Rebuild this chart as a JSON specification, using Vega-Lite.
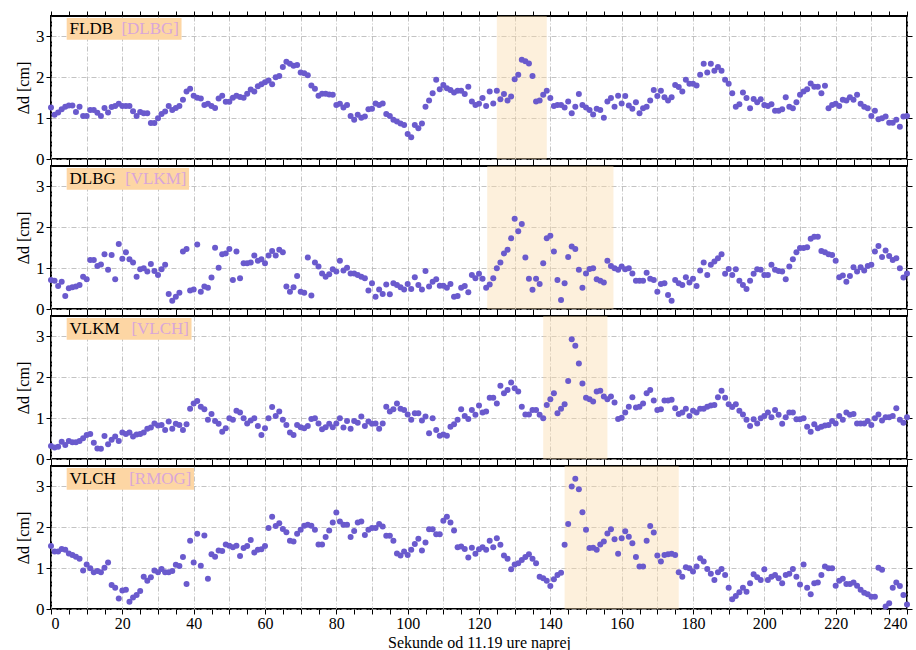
{
"$schema": "https://vega.github.io/schema/vega-lite/v6.json",
"padding": {"left": 14, "top": 9, "right": 6, "bottom": 0},
"background": "white",
"config": {
  "font": "Liberation Serif",
  "view": {"stroke": "black", "strokeWidth": 2},
  "axis": {"domain": false, "tickColor": "black", "tickSize": 5, "tickWidth": 1, "labelFont": "Liberation Serif", "labelFontSize": 17, "labelColor": "black", "titleFont": "Liberation Serif", "titleFontWeight": "normal", "titleColor": "black", "titleFontSize": 16, "gridColor": "#b4b4b4", "gridDash": [5, 2, 1, 2], "gridWidth": 0.8}
},
"datasets": {
  "spans": [
    {"p": "FLDB", "ref": "[DLBG]", "start": 125, "end": 139},
    {"p": "DLBG", "ref": "[VLKM]", "start": 122.3, "end": 157.7},
    {"p": "VLKM", "ref": "[VLCH]", "start": 138, "end": 156},
    {"p": "VLCH", "ref": "[RMOG]", "start": 144, "end": 176}
  ],
  "series": [
{"t":0,"FLDB":1.26,"DLBG":0.71,"VLKM":0.32,"VLCH":1.54},
{"t":1,"FLDB":1.08,"DLBG":0.69,"VLKM":0.28,"VLCH":1.41},
{"t":2,"FLDB":1.14,"DLBG":0.56,"VLKM":0.3,"VLCH":1.41},
{"t":3,"FLDB":1.22,"DLBG":0.67,"VLKM":0.42,"VLCH":1.47},
{"t":4,"FLDB":1.28,"DLBG":0.32,"VLKM":0.34,"VLCH":1.45},
{"t":5,"FLDB":1.31,"DLBG":0.51,"VLKM":0.44,"VLCH":1.36},
{"t":6,"FLDB":1.31,"DLBG":0.53,"VLKM":0.41,"VLCH":1.32},
{"t":7,"FLDB":1.15,"DLBG":0.55,"VLKM":0.41,"VLCH":1.28},
{"t":8,"FLDB":1.28,"DLBG":0.59,"VLKM":0.44,"VLCH":1.23},
{"t":9,"FLDB":1.05,"DLBG":0.79,"VLKM":0.51,"VLCH":0.94},
{"t":10,"FLDB":1.05,"DLBG":0.73,"VLKM":0.59,"VLCH":1.09},
{"t":11,"FLDB":1.2,"DLBG":1.2,"VLKM":0.61,"VLCH":1.0},
{"t":12,"FLDB":1.2,"DLBG":1.2,"VLKM":0.4,"VLCH":0.9},
{"t":13,"FLDB":1.13,"DLBG":1.05,"VLKM":0.26,"VLCH":0.93},
{"t":14,"FLDB":1.05,"DLBG":1.09,"VLKM":0.25,"VLCH":0.9},
{"t":15,"FLDB":1.25,"DLBG":1.34,"VLKM":0.56,"VLCH":1.01},
{"t":16,"FLDB":1.14,"DLBG":0.96,"VLKM":0.36,"VLCH":1.14},
{"t":17,"FLDB":1.27,"DLBG":1.32,"VLKM":0.47,"VLCH":0.59},
{"t":18,"FLDB":1.3,"DLBG":0.73,"VLKM":0.55,"VLCH":0.52},
{"t":19,"FLDB":1.35,"DLBG":1.59,"VLKM":0.44,"VLCH":0.26},
{"t":20,"FLDB":1.3,"DLBG":1.23,"VLKM":0.65,"VLCH":0.45},
{"t":21,"FLDB":1.3,"DLBG":1.39,"VLKM":0.61,"VLCH":0.47},
{"t":22,"FLDB":1.3,"DLBG":1.22,"VLKM":0.65,"VLCH":0.18},
{"t":23,"FLDB":1.17,"DLBG":1.14,"VLKM":0.55,"VLCH":0.28},
{"t":24,"FLDB":1.05,"DLBG":0.79,"VLKM":0.6,"VLCH":0.34},
{"t":25,"FLDB":1.15,"DLBG":0.97,"VLKM":0.61,"VLCH":0.44},
{"t":26,"FLDB":1.12,"DLBG":1.0,"VLKM":0.65,"VLCH":0.79},
{"t":27,"FLDB":1.12,"DLBG":0.92,"VLKM":0.74,"VLCH":0.69},
{"t":28,"FLDB":0.88,"DLBG":1.1,"VLKM":0.77,"VLCH":0.78},
{"t":29,"FLDB":0.88,"DLBG":0.93,"VLKM":0.87,"VLCH":0.94},
{"t":30,"FLDB":1.0,"DLBG":0.83,"VLKM":0.82,"VLCH":0.9},
{"t":31,"FLDB":1.1,"DLBG":0.97,"VLKM":0.83,"VLCH":0.98},
{"t":32,"FLDB":1.16,"DLBG":1.08,"VLKM":0.71,"VLCH":0.9},
{"t":33,"FLDB":1.3,"DLBG":0.37,"VLKM":0.92,"VLCH":0.9},
{"t":34,"FLDB":1.2,"DLBG":0.2,"VLKM":0.74,"VLCH":0.93},
{"t":35,"FLDB":1.25,"DLBG":0.3,"VLKM":0.86,"VLCH":1.08},
{"t":36,"FLDB":1.3,"DLBG":0.4,"VLKM":0.83,"VLCH":1.05},
{"t":37,"FLDB":1.45,"DLBG":1.41,"VLKM":0.71,"VLCH":1.27},
{"t":38,"FLDB":1.65,"DLBG":1.47,"VLKM":0.85,"VLCH":0.61},
{"t":39,"FLDB":1.72,"DLBG":0.45,"VLKM":1.23,"VLCH":1.67},
{"t":40,"FLDB":1.55,"DLBG":0.48,"VLKM":1.36,"VLCH":1.14},
{"t":41,"FLDB":1.5,"DLBG":1.58,"VLKM":1.42,"VLCH":1.84},
{"t":42,"FLDB":1.48,"DLBG":0.42,"VLKM":1.28,"VLCH":1.06},
{"t":43,"FLDB":1.32,"DLBG":0.55,"VLKM":1.22,"VLCH":1.8},
{"t":44,"FLDB":1.35,"DLBG":0.52,"VLKM":0.96,"VLCH":0.74},
{"t":45,"FLDB":1.3,"DLBG":0.77,"VLKM":1.1,"VLCH":1.34},
{"t":46,"FLDB":1.25,"DLBG":1.5,"VLKM":0.93,"VLCH":1.28},
{"t":47,"FLDB":1.48,"DLBG":1.01,"VLKM":0.86,"VLCH":1.43},
{"t":48,"FLDB":1.55,"DLBG":1.34,"VLKM":0.67,"VLCH":1.42},
{"t":49,"FLDB":1.4,"DLBG":1.36,"VLKM":0.75,"VLCH":1.58},
{"t":50,"FLDB":1.4,"DLBG":1.47,"VLKM":1.0,"VLCH":1.55},
{"t":51,"FLDB":1.5,"DLBG":0.71,"VLKM":0.96,"VLCH":1.51},
{"t":52,"FLDB":1.55,"DLBG":1.41,"VLKM":1.18,"VLCH":1.55},
{"t":53,"FLDB":1.52,"DLBG":0.75,"VLKM":1.14,"VLCH":1.3},
{"t":54,"FLDB":1.5,"DLBG":1.12,"VLKM":1.0,"VLCH":1.49},
{"t":55,"FLDB":1.6,"DLBG":1.12,"VLKM":0.87,"VLCH":1.54},
{"t":56,"FLDB":1.7,"DLBG":1.14,"VLKM":0.94,"VLCH":1.69},
{"t":57,"FLDB":1.65,"DLBG":1.31,"VLKM":1.0,"VLCH":1.38},
{"t":58,"FLDB":1.78,"DLBG":1.18,"VLKM":0.81,"VLCH":1.45},
{"t":59,"FLDB":1.83,"DLBG":1.22,"VLKM":0.59,"VLCH":1.46},
{"t":60,"FLDB":1.88,"DLBG":1.12,"VLKM":0.75,"VLCH":1.54},
{"t":61,"FLDB":1.92,"DLBG":1.31,"VLKM":1.0,"VLCH":1.98},
{"t":62,"FLDB":1.83,"DLBG":1.42,"VLKM":1.27,"VLCH":2.26},
{"t":63,"FLDB":2.0,"DLBG":1.31,"VLKM":1.05,"VLCH":2.03},
{"t":64,"FLDB":2.03,"DLBG":1.45,"VLKM":1.16,"VLCH":2.1},
{"t":65,"FLDB":2.25,"DLBG":1.39,"VLKM":0.96,"VLCH":1.96},
{"t":66,"FLDB":2.38,"DLBG":0.55,"VLKM":0.83,"VLCH":1.88},
{"t":67,"FLDB":2.33,"DLBG":0.42,"VLKM":0.65,"VLCH":1.67},
{"t":68,"FLDB":2.28,"DLBG":0.53,"VLKM":0.59,"VLCH":1.65},
{"t":69,"FLDB":2.3,"DLBG":0.81,"VLKM":0.83,"VLCH":1.84},
{"t":70,"FLDB":2.12,"DLBG":0.42,"VLKM":0.78,"VLCH":1.94},
{"t":71,"FLDB":2.1,"DLBG":0.4,"VLKM":0.75,"VLCH":2.04},
{"t":72,"FLDB":2.05,"DLBG":1.26,"VLKM":0.81,"VLCH":2.06},
{"t":73,"FLDB":1.8,"DLBG":0.33,"VLKM":0.98,"VLCH":2.04},
{"t":74,"FLDB":1.72,"DLBG":1.14,"VLKM":1.0,"VLCH":1.94},
{"t":75,"FLDB":1.55,"DLBG":1.04,"VLKM":0.87,"VLCH":1.58},
{"t":76,"FLDB":1.6,"DLBG":0.87,"VLKM":0.73,"VLCH":1.58},
{"t":77,"FLDB":1.6,"DLBG":0.79,"VLKM":0.78,"VLCH":1.76},
{"t":78,"FLDB":1.58,"DLBG":0.85,"VLKM":0.86,"VLCH":1.92},
{"t":79,"FLDB":1.57,"DLBG":0.97,"VLKM":0.78,"VLCH":2.12},
{"t":80,"FLDB":1.32,"DLBG":0.92,"VLKM":0.87,"VLCH":2.36},
{"t":81,"FLDB":1.35,"DLBG":1.18,"VLKM":1.0,"VLCH":2.14},
{"t":82,"FLDB":1.26,"DLBG":0.94,"VLKM":0.77,"VLCH":2.06},
{"t":83,"FLDB":1.32,"DLBG":1.01,"VLKM":0.93,"VLCH":2.06},
{"t":84,"FLDB":1.05,"DLBG":0.87,"VLKM":0.74,"VLCH":1.76},
{"t":85,"FLDB":0.96,"DLBG":0.87,"VLKM":0.93,"VLCH":1.91},
{"t":86,"FLDB":1.08,"DLBG":0.83,"VLKM":0.89,"VLCH":2.12},
{"t":87,"FLDB":1.01,"DLBG":0.79,"VLKM":1.04,"VLCH":2.14},
{"t":88,"FLDB":1.04,"DLBG":0.75,"VLKM":0.81,"VLCH":1.81},
{"t":89,"FLDB":1.22,"DLBG":0.45,"VLKM":0.92,"VLCH":1.94},
{"t":90,"FLDB":1.23,"DLBG":0.63,"VLKM":0.86,"VLCH":1.98},
{"t":91,"FLDB":1.36,"DLBG":0.3,"VLKM":0.87,"VLCH":1.98},
{"t":92,"FLDB":1.32,"DLBG":0.48,"VLKM":0.74,"VLCH":2.08},
{"t":93,"FLDB":1.36,"DLBG":0.37,"VLKM":0.87,"VLCH":2.02},
{"t":94,"FLDB":1.1,"DLBG":0.6,"VLKM":1.28,"VLCH":1.79},
{"t":95,"FLDB":1.05,"DLBG":0.36,"VLKM":1.16,"VLCH":1.79},
{"t":96,"FLDB":0.96,"DLBG":0.63,"VLKM":1.22,"VLCH":1.67},
{"t":97,"FLDB":0.92,"DLBG":0.59,"VLKM":1.36,"VLCH":1.36},
{"t":98,"FLDB":0.87,"DLBG":0.53,"VLKM":1.23,"VLCH":1.31},
{"t":99,"FLDB":0.83,"DLBG":0.48,"VLKM":1.2,"VLCH":1.41},
{"t":100,"FLDB":0.61,"DLBG":0.61,"VLKM":1.09,"VLCH":1.32},
{"t":101,"FLDB":0.53,"DLBG":0.49,"VLKM":0.96,"VLCH":1.45},
{"t":102,"FLDB":0.83,"DLBG":0.78,"VLKM":1.12,"VLCH":1.59},
{"t":103,"FLDB":0.75,"DLBG":0.59,"VLKM":1.12,"VLCH":1.72},
{"t":104,"FLDB":0.87,"DLBG":0.48,"VLKM":0.94,"VLCH":1.43},
{"t":105,"FLDB":1.28,"DLBG":0.93,"VLKM":1.04,"VLCH":1.63},
{"t":106,"FLDB":1.43,"DLBG":0.55,"VLKM":0.63,"VLCH":1.95},
{"t":107,"FLDB":1.61,"DLBG":0.67,"VLKM":1.0,"VLCH":1.95},
{"t":108,"FLDB":1.94,"DLBG":0.73,"VLKM":0.71,"VLCH":1.83},
{"t":109,"FLDB":1.71,"DLBG":0.57,"VLKM":0.57,"VLCH":1.83},
{"t":110,"FLDB":1.81,"DLBG":0.57,"VLKM":0.6,"VLCH":2.16},
{"t":111,"FLDB":1.73,"DLBG":0.52,"VLKM":0.57,"VLCH":2.26},
{"t":112,"FLDB":1.69,"DLBG":0.61,"VLKM":0.79,"VLCH":2.12},
{"t":113,"FLDB":1.63,"DLBG":0.3,"VLKM":0.85,"VLCH":1.92},
{"t":114,"FLDB":1.67,"DLBG":0.32,"VLKM":0.96,"VLCH":1.51},
{"t":115,"FLDB":1.67,"DLBG":0.52,"VLKM":1.22,"VLCH":1.53},
{"t":116,"FLDB":1.59,"DLBG":0.56,"VLKM":1.05,"VLCH":1.47},
{"t":117,"FLDB":1.77,"DLBG":0.41,"VLKM":0.98,"VLCH":1.26},
{"t":118,"FLDB":1.41,"DLBG":0.83,"VLKM":1.2,"VLCH":1.5},
{"t":119,"FLDB":1.32,"DLBG":0.75,"VLKM":1.08,"VLCH":1.35},
{"t":120,"FLDB":1.35,"DLBG":0.86,"VLKM":1.31,"VLCH":1.46},
{"t":121,"FLDB":1.49,"DLBG":0.74,"VLKM":1.14,"VLCH":1.51},
{"t":122,"FLDB":1.3,"DLBG":0.52,"VLKM":1.16,"VLCH":1.45},
{"t":123,"FLDB":1.65,"DLBG":0.6,"VLKM":1.5,"VLCH":1.67},
{"t":124,"FLDB":1.36,"DLBG":0.75,"VLKM":1.5,"VLCH":1.51},
{"t":125,"FLDB":1.67,"DLBG":1.0,"VLKM":1.36,"VLCH":1.73},
{"t":126,"FLDB":1.46,"DLBG":1.14,"VLKM":1.79,"VLCH":1.57},
{"t":127,"FLDB":1.59,"DLBG":1.36,"VLKM":1.61,"VLCH":1.31},
{"t":128,"FLDB":1.43,"DLBG":1.45,"VLKM":1.69,"VLCH":1.23},
{"t":129,"FLDB":1.53,"DLBG":1.73,"VLKM":1.87,"VLCH":0.97},
{"t":130,"FLDB":1.95,"DLBG":2.21,"VLKM":1.73,"VLCH":1.09},
{"t":131,"FLDB":2.06,"DLBG":1.9,"VLKM":1.65,"VLCH":1.12},
{"t":132,"FLDB":2.43,"DLBG":2.08,"VLKM":1.28,"VLCH":1.2},
{"t":133,"FLDB":2.39,"DLBG":1.26,"VLKM":1.09,"VLCH":1.27},
{"t":134,"FLDB":2.34,"DLBG":0.74,"VLKM":1.09,"VLCH":1.34},
{"t":135,"FLDB":2.03,"DLBG":0.47,"VLKM":1.2,"VLCH":1.23},
{"t":136,"FLDB":1.41,"DLBG":0.74,"VLKM":1.2,"VLCH":1.12},
{"t":137,"FLDB":1.43,"DLBG":0.61,"VLKM":1.08,"VLCH":0.79},
{"t":138,"FLDB":1.57,"DLBG":1.12,"VLKM":1.0,"VLCH":0.75},
{"t":139,"FLDB":1.67,"DLBG":1.73,"VLKM":1.32,"VLCH":0.69},
{"t":140,"FLDB":1.49,"DLBG":1.79,"VLKM":1.46,"VLCH":0.56},
{"t":141,"FLDB":1.3,"DLBG":1.41,"VLKM":1.61,"VLCH":0.73},
{"t":142,"FLDB":1.32,"DLBG":0.71,"VLKM":1.12,"VLCH":0.83},
{"t":143,"FLDB":1.32,"DLBG":0.22,"VLKM":1.23,"VLCH":0.89},
{"t":144,"FLDB":1.26,"DLBG":0.63,"VLKM":1.34,"VLCH":1.57},
{"t":145,"FLDB":1.41,"DLBG":1.27,"VLKM":1.91,"VLCH":2.08},
{"t":146,"FLDB":1.12,"DLBG":1.53,"VLKM":2.93,"VLCH":3.0},
{"t":147,"FLDB":1.28,"DLBG":1.47,"VLKM":2.77,"VLCH":3.19},
{"t":148,"FLDB":1.59,"DLBG":0.96,"VLKM":2.34,"VLCH":2.93},
{"t":149,"FLDB":1.32,"DLBG":0.52,"VLKM":1.85,"VLCH":2.37},
{"t":150,"FLDB":1.26,"DLBG":0.87,"VLKM":1.5,"VLCH":1.94},
{"t":151,"FLDB":1.2,"DLBG":0.98,"VLKM":1.46,"VLCH":1.49},
{"t":152,"FLDB":1.09,"DLBG":1.0,"VLKM":1.41,"VLCH":1.5},
{"t":153,"FLDB":1.23,"DLBG":0.73,"VLKM":1.65,"VLCH":1.45},
{"t":154,"FLDB":1.2,"DLBG":0.69,"VLKM":1.67,"VLCH":1.58},
{"t":155,"FLDB":1.01,"DLBG":0.65,"VLKM":1.53,"VLCH":1.65},
{"t":156,"FLDB":1.41,"DLBG":1.18,"VLKM":1.46,"VLCH":1.85},
{"t":157,"FLDB":1.49,"DLBG":1.05,"VLKM":1.53,"VLCH":1.95},
{"t":158,"FLDB":1.28,"DLBG":1.0,"VLKM":1.38,"VLCH":1.71},
{"t":159,"FLDB":1.55,"DLBG":0.96,"VLKM":0.98,"VLCH":1.35},
{"t":160,"FLDB":1.36,"DLBG":1.04,"VLKM":1.01,"VLCH":1.73},
{"t":161,"FLDB":1.54,"DLBG":0.97,"VLKM":1.14,"VLCH":1.9},
{"t":162,"FLDB":1.31,"DLBG":1.0,"VLKM":1.28,"VLCH":1.77},
{"t":163,"FLDB":1.23,"DLBG":0.87,"VLKM":1.51,"VLCH":1.61},
{"t":164,"FLDB":1.39,"DLBG":0.69,"VLKM":1.26,"VLCH":1.27},
{"t":165,"FLDB":1.12,"DLBG":0.69,"VLKM":1.28,"VLCH":1.04},
{"t":166,"FLDB":1.24,"DLBG":0.69,"VLKM":1.36,"VLCH":1.04},
{"t":167,"FLDB":1.28,"DLBG":0.89,"VLKM":1.61,"VLCH":1.67},
{"t":168,"FLDB":1.43,"DLBG":0.74,"VLKM":1.69,"VLCH":2.03},
{"t":169,"FLDB":1.69,"DLBG":0.71,"VLKM":1.43,"VLCH":1.87},
{"t":170,"FLDB":1.54,"DLBG":0.42,"VLKM":1.2,"VLCH":1.31},
{"t":171,"FLDB":1.67,"DLBG":0.61,"VLKM":1.22,"VLCH":1.16},
{"t":172,"FLDB":1.51,"DLBG":0.63,"VLKM":1.43,"VLCH":1.32},
{"t":173,"FLDB":1.43,"DLBG":0.34,"VLKM":1.43,"VLCH":1.34},
{"t":174,"FLDB":1.51,"DLBG":0.2,"VLKM":1.45,"VLCH":1.35},
{"t":175,"FLDB":1.81,"DLBG":0.71,"VLKM":1.24,"VLCH":1.32},
{"t":176,"FLDB":1.76,"DLBG":0.63,"VLKM":1.1,"VLCH":0.9},
{"t":177,"FLDB":1.65,"DLBG":0.59,"VLKM":1.14,"VLCH":0.79},
{"t":178,"FLDB":1.94,"DLBG":0.78,"VLKM":1.23,"VLCH":1.02},
{"t":179,"FLDB":1.84,"DLBG":0.65,"VLKM":1.05,"VLCH":1.0},
{"t":180,"FLDB":1.84,"DLBG":0.74,"VLKM":1.18,"VLCH":0.92},
{"t":181,"FLDB":1.8,"DLBG":0.56,"VLKM":1.14,"VLCH":1.04},
{"t":182,"FLDB":2.06,"DLBG":0.94,"VLKM":1.23,"VLCH":1.24},
{"t":183,"FLDB":2.33,"DLBG":1.14,"VLKM":1.23,"VLCH":1.16},
{"t":184,"FLDB":2.12,"DLBG":0.83,"VLKM":1.28,"VLCH":0.98},
{"t":185,"FLDB":2.33,"DLBG":1.08,"VLKM":1.31,"VLCH":0.86},
{"t":186,"FLDB":2.16,"DLBG":1.16,"VLKM":1.32,"VLCH":0.71},
{"t":187,"FLDB":2.25,"DLBG":1.24,"VLKM":1.51,"VLCH":0.9},
{"t":188,"FLDB":2.16,"DLBG":1.34,"VLKM":1.67,"VLCH":0.98},
{"t":189,"FLDB":1.94,"DLBG":0.86,"VLKM":1.5,"VLCH":0.83},
{"t":190,"FLDB":1.84,"DLBG":0.98,"VLKM":1.34,"VLCH":0.52},
{"t":191,"FLDB":1.61,"DLBG":0.83,"VLKM":1.27,"VLCH":0.24},
{"t":192,"FLDB":1.28,"DLBG":0.97,"VLKM":1.34,"VLCH":0.32},
{"t":193,"FLDB":1.34,"DLBG":0.69,"VLKM":1.18,"VLCH":0.41},
{"t":194,"FLDB":1.63,"DLBG":0.59,"VLKM":1.09,"VLCH":0.52},
{"t":195,"FLDB":1.49,"DLBG":0.49,"VLKM":0.96,"VLCH":0.42},
{"t":196,"FLDB":1.24,"DLBG":0.69,"VLKM":0.81,"VLCH":0.63},
{"t":197,"FLDB":1.47,"DLBG":0.86,"VLKM":0.97,"VLCH":0.85},
{"t":198,"FLDB":1.39,"DLBG":0.97,"VLKM":0.87,"VLCH":0.78},
{"t":199,"FLDB":1.46,"DLBG":0.96,"VLKM":1.0,"VLCH":0.71},
{"t":200,"FLDB":1.32,"DLBG":0.83,"VLKM":1.05,"VLCH":0.97},
{"t":201,"FLDB":1.3,"DLBG":0.83,"VLKM":1.14,"VLCH":0.71},
{"t":202,"FLDB":1.34,"DLBG":1.08,"VLKM":1.02,"VLCH":0.79},
{"t":203,"FLDB":1.18,"DLBG":0.96,"VLKM":1.2,"VLCH":0.83},
{"t":204,"FLDB":1.18,"DLBG":0.93,"VLKM":1.08,"VLCH":0.75},
{"t":205,"FLDB":1.22,"DLBG":0.92,"VLKM":0.86,"VLCH":0.63},
{"t":206,"FLDB":1.51,"DLBG":0.73,"VLKM":1.02,"VLCH":0.83},
{"t":207,"FLDB":1.28,"DLBG":1.04,"VLKM":1.14,"VLCH":0.86},
{"t":208,"FLDB":1.24,"DLBG":1.22,"VLKM":1.14,"VLCH":0.98},
{"t":209,"FLDB":1.39,"DLBG":1.39,"VLKM":0.97,"VLCH":0.79},
{"t":210,"FLDB":1.57,"DLBG":1.49,"VLKM":0.97,"VLCH":0.6},
{"t":211,"FLDB":1.65,"DLBG":1.49,"VLKM":1.0,"VLCH":1.09},
{"t":212,"FLDB":1.71,"DLBG":1.51,"VLKM":0.79,"VLCH":0.52},
{"t":213,"FLDB":1.85,"DLBG":1.72,"VLKM":0.67,"VLCH":0.36},
{"t":214,"FLDB":1.77,"DLBG":1.77,"VLKM":0.85,"VLCH":0.63},
{"t":215,"FLDB":1.77,"DLBG":1.77,"VLKM":0.75,"VLCH":0.65},
{"t":216,"FLDB":1.61,"DLBG":1.42,"VLKM":0.79,"VLCH":0.83},
{"t":217,"FLDB":1.79,"DLBG":1.39,"VLKM":0.82,"VLCH":1.04},
{"t":218,"FLDB":1.24,"DLBG":1.34,"VLKM":0.83,"VLCH":1.0},
{"t":219,"FLDB":1.32,"DLBG":1.32,"VLKM":0.93,"VLCH":1.0},
{"t":220,"FLDB":1.35,"DLBG":1.18,"VLKM":0.87,"VLCH":0.57},
{"t":221,"FLDB":1.3,"DLBG":0.78,"VLKM":1.05,"VLCH":0.69},
{"t":222,"FLDB":1.45,"DLBG":0.82,"VLKM":0.96,"VLCH":0.74},
{"t":223,"FLDB":1.43,"DLBG":0.67,"VLKM":1.14,"VLCH":0.61},
{"t":224,"FLDB":1.51,"DLBG":0.81,"VLKM":1.08,"VLCH":0.61},
{"t":225,"FLDB":1.45,"DLBG":1.02,"VLKM":1.1,"VLCH":0.65},
{"t":226,"FLDB":1.57,"DLBG":0.92,"VLKM":0.87,"VLCH":0.57},
{"t":227,"FLDB":1.35,"DLBG":1.02,"VLKM":0.87,"VLCH":0.47},
{"t":228,"FLDB":1.28,"DLBG":0.94,"VLKM":0.87,"VLCH":0.4},
{"t":229,"FLDB":1.24,"DLBG":1.05,"VLKM":0.93,"VLCH":0.36},
{"t":230,"FLDB":1.05,"DLBG":1.08,"VLKM":0.83,"VLCH":0.3},
{"t":231,"FLDB":1.18,"DLBG":1.41,"VLKM":1.0,"VLCH":0.3},
{"t":232,"FLDB":0.97,"DLBG":1.54,"VLKM":1.09,"VLCH":1.01},
{"t":233,"FLDB":1.0,"DLBG":1.27,"VLKM":0.94,"VLCH":0.96},
{"t":234,"FLDB":1.04,"DLBG":1.43,"VLKM":1.02,"VLCH":0.06},
{"t":235,"FLDB":0.89,"DLBG":1.3,"VLKM":1.02,"VLCH":0.14},
{"t":236,"FLDB":0.89,"DLBG":1.2,"VLKM":1.05,"VLCH":0.52},
{"t":237,"FLDB":0.96,"DLBG":1.24,"VLKM":1.24,"VLCH":0.65},
{"t":238,"FLDB":0.79,"DLBG":1.0,"VLKM":0.96,"VLCH":0.56},
{"t":239,"FLDB":1.04,"DLBG":0.77,"VLKM":0.89,"VLCH":0.34},
{"t":240,"FLDB":1.05,"DLBG":0.87,"VLKM":1.02,"VLCH":0.11}
  ]
},
"bounds": "flush",
"spacing": 7,
"vconcat": [
{
  "width": 856, "height": 143,
  "resolve": {"axis": {"x": "independent", "y": "independent"}},
  "layer": [
    {"data": {"name": "spans"}, "transform": [{"filter": "datum.p === 'FLDB'"}],
     "mark": {"type": "rect", "color": "#fad9a7", "opacity": 0.4},
     "encoding": {
       "x": {"field": "start", "type": "quantitative", "scale": {"domain": [0, 240], "nice": false}, "axis": {"orient": "top", "values": [0,5,10,15,20,25,30,35,40,45,50,55,60,65,70,75,80,85,90,95,100,105,110,115,120,125,130,135,140,145,150,155,160,165,170,175,180,185,190,195,200,205,210,215,220,225,230,235,240], "labels": false, "grid": false, "title": null}},
       "x2": {"field": "end"}}},
    {"data": {"name": "spans"}, "transform": [{"filter": "datum.p === 'FLDB'"}],
     "mark": {"type": "rect", "color": "#fdd6a4"},
     "encoding": {
       "x": {"datum": 4.4, "type": "quantitative", "scale": {"domain": [0, 240], "nice": false}, "axis": null},
       "x2": {"datum": 36.6},
       "y": {"datum": 2.92, "type": "quantitative", "scale": {"domain": [0, 3.5], "nice": false}, "axis": {"orient": "right", "values": [0, 1, 2, 3], "labels": false, "grid": false, "title": null}},
       "y2": {"datum": 3.45}}},
    {"data": {"name": "spans"}, "transform": [{"filter": "datum.p === 'FLDB'"}],
     "mark": {"type": "text", "align": "left", "baseline": "middle", "fontSize": 17, "color": "black"},
     "encoding": {
       "x": {"datum": 5.2, "type": "quantitative", "scale": {"domain": [0, 240], "nice": false}, "axis": null},
       "y": {"datum": 3.19, "type": "quantitative", "scale": {"domain": [0, 3.5], "nice": false}, "axis": null},
       "text": {"field": "p"}}},
    {"data": {"name": "spans"}, "transform": [{"filter": "datum.p === 'FLDB'"}],
     "mark": {"type": "text", "align": "right", "baseline": "middle", "fontSize": 17, "color": "#d9a6d9"},
     "encoding": {
       "x": {"datum": 35.9, "type": "quantitative", "scale": {"domain": [0, 240], "nice": false}, "axis": null},
       "y": {"datum": 3.19, "type": "quantitative", "scale": {"domain": [0, 3.5], "nice": false}, "axis": null},
       "text": {"field": "ref"}}},
    {"data": {"name": "series"},
     "mark": {"type": "circle", "size": 36, "color": "#6a5acd", "opacity": 1},
     "encoding": {
       "x": {"field": "t", "type": "quantitative", "scale": {"domain": [0, 240], "nice": false}, "axis": {"orient": "bottom", "values": [0,5,10,15,20,25,30,35,40,45,50,55,60,65,70,75,80,85,90,95,100,105,110,115,120,125,130,135,140,145,150,155,160,165,170,175,180,185,190,195,200,205,210,215,220,225,230,235,240], "labels": false, "title": null, "grid": true, "gridOpacity": {"condition": {"test": "datum.value % 10 === 0", "value": 1}, "value": 0}}},
       "y": {"field": "FLDB", "type": "quantitative", "scale": {"domain": [0, 3.5], "nice": false}, "axis": {"orient": "left", "values": [0, 1, 2, 3], "title": "Δd [cm]", "grid": true}}}}
  ]
},
{
  "width": 856, "height": 143,
  "resolve": {"axis": {"x": "independent", "y": "independent"}},
  "layer": [
    {"data": {"name": "spans"}, "transform": [{"filter": "datum.p === 'DLBG'"}],
     "mark": {"type": "rect", "color": "#fad9a7", "opacity": 0.4},
     "encoding": {
       "x": {"field": "start", "type": "quantitative", "scale": {"domain": [0, 240], "nice": false}, "axis": {"orient": "top", "values": [0,5,10,15,20,25,30,35,40,45,50,55,60,65,70,75,80,85,90,95,100,105,110,115,120,125,130,135,140,145,150,155,160,165,170,175,180,185,190,195,200,205,210,215,220,225,230,235,240], "labels": false, "grid": false, "title": null}},
       "x2": {"field": "end"}}},
    {"data": {"name": "spans"}, "transform": [{"filter": "datum.p === 'DLBG'"}],
     "mark": {"type": "rect", "color": "#fdd6a4"},
     "encoding": {
       "x": {"datum": 4.4, "type": "quantitative", "scale": {"domain": [0, 240], "nice": false}, "axis": null},
       "x2": {"datum": 38.7},
       "y": {"datum": 2.92, "type": "quantitative", "scale": {"domain": [0, 3.5], "nice": false}, "axis": {"orient": "right", "values": [0, 1, 2, 3], "labels": false, "grid": false, "title": null}},
       "y2": {"datum": 3.45}}},
    {"data": {"name": "spans"}, "transform": [{"filter": "datum.p === 'DLBG'"}],
     "mark": {"type": "text", "align": "left", "baseline": "middle", "fontSize": 17, "color": "black"},
     "encoding": {
       "x": {"datum": 5.2, "type": "quantitative", "scale": {"domain": [0, 240], "nice": false}, "axis": null},
       "y": {"datum": 3.19, "type": "quantitative", "scale": {"domain": [0, 3.5], "nice": false}, "axis": null},
       "text": {"field": "p"}}},
    {"data": {"name": "spans"}, "transform": [{"filter": "datum.p === 'DLBG'"}],
     "mark": {"type": "text", "align": "right", "baseline": "middle", "fontSize": 17, "color": "#d9a6d9"},
     "encoding": {
       "x": {"datum": 38.0, "type": "quantitative", "scale": {"domain": [0, 240], "nice": false}, "axis": null},
       "y": {"datum": 3.19, "type": "quantitative", "scale": {"domain": [0, 3.5], "nice": false}, "axis": null},
       "text": {"field": "ref"}}},
    {"data": {"name": "series"},
     "mark": {"type": "circle", "size": 36, "color": "#6a5acd", "opacity": 1},
     "encoding": {
       "x": {"field": "t", "type": "quantitative", "scale": {"domain": [0, 240], "nice": false}, "axis": {"orient": "bottom", "values": [0,5,10,15,20,25,30,35,40,45,50,55,60,65,70,75,80,85,90,95,100,105,110,115,120,125,130,135,140,145,150,155,160,165,170,175,180,185,190,195,200,205,210,215,220,225,230,235,240], "labels": false, "title": null, "grid": true, "gridOpacity": {"condition": {"test": "datum.value % 10 === 0", "value": 1}, "value": 0}}},
       "y": {"field": "DLBG", "type": "quantitative", "scale": {"domain": [0, 3.5], "nice": false}, "axis": {"orient": "left", "values": [0, 1, 2, 3], "title": "Δd [cm]", "grid": true}}}}
  ]
},
{
  "width": 856, "height": 143,
  "resolve": {"axis": {"x": "independent", "y": "independent"}},
  "layer": [
    {"data": {"name": "spans"}, "transform": [{"filter": "datum.p === 'VLKM'"}],
     "mark": {"type": "rect", "color": "#fad9a7", "opacity": 0.4},
     "encoding": {
       "x": {"field": "start", "type": "quantitative", "scale": {"domain": [0, 240], "nice": false}, "axis": {"orient": "top", "values": [0,5,10,15,20,25,30,35,40,45,50,55,60,65,70,75,80,85,90,95,100,105,110,115,120,125,130,135,140,145,150,155,160,165,170,175,180,185,190,195,200,205,210,215,220,225,230,235,240], "labels": false, "grid": false, "title": null}},
       "x2": {"field": "end"}}},
    {"data": {"name": "spans"}, "transform": [{"filter": "datum.p === 'VLKM'"}],
     "mark": {"type": "rect", "color": "#fdd6a4"},
     "encoding": {
       "x": {"datum": 4.4, "type": "quantitative", "scale": {"domain": [0, 240], "nice": false}, "axis": null},
       "x2": {"datum": 39.4},
       "y": {"datum": 2.92, "type": "quantitative", "scale": {"domain": [0, 3.5], "nice": false}, "axis": {"orient": "right", "values": [0, 1, 2, 3], "labels": false, "grid": false, "title": null}},
       "y2": {"datum": 3.45}}},
    {"data": {"name": "spans"}, "transform": [{"filter": "datum.p === 'VLKM'"}],
     "mark": {"type": "text", "align": "left", "baseline": "middle", "fontSize": 17, "color": "black"},
     "encoding": {
       "x": {"datum": 5.2, "type": "quantitative", "scale": {"domain": [0, 240], "nice": false}, "axis": null},
       "y": {"datum": 3.19, "type": "quantitative", "scale": {"domain": [0, 3.5], "nice": false}, "axis": null},
       "text": {"field": "p"}}},
    {"data": {"name": "spans"}, "transform": [{"filter": "datum.p === 'VLKM'"}],
     "mark": {"type": "text", "align": "right", "baseline": "middle", "fontSize": 17, "color": "#d9a6d9"},
     "encoding": {
       "x": {"datum": 38.7, "type": "quantitative", "scale": {"domain": [0, 240], "nice": false}, "axis": null},
       "y": {"datum": 3.19, "type": "quantitative", "scale": {"domain": [0, 3.5], "nice": false}, "axis": null},
       "text": {"field": "ref"}}},
    {"data": {"name": "series"},
     "mark": {"type": "circle", "size": 36, "color": "#6a5acd", "opacity": 1},
     "encoding": {
       "x": {"field": "t", "type": "quantitative", "scale": {"domain": [0, 240], "nice": false}, "axis": {"orient": "bottom", "values": [0,5,10,15,20,25,30,35,40,45,50,55,60,65,70,75,80,85,90,95,100,105,110,115,120,125,130,135,140,145,150,155,160,165,170,175,180,185,190,195,200,205,210,215,220,225,230,235,240], "labels": false, "title": null, "grid": true, "gridOpacity": {"condition": {"test": "datum.value % 10 === 0", "value": 1}, "value": 0}}},
       "y": {"field": "VLKM", "type": "quantitative", "scale": {"domain": [0, 3.5], "nice": false}, "axis": {"orient": "left", "values": [0, 1, 2, 3], "title": "Δd [cm]", "grid": true}}}}
  ]
},
{
  "width": 856, "height": 143,
  "resolve": {"axis": {"x": "independent", "y": "independent"}},
  "layer": [
    {"data": {"name": "spans"}, "transform": [{"filter": "datum.p === 'VLCH'"}],
     "mark": {"type": "rect", "color": "#fad9a7", "opacity": 0.4},
     "encoding": {
       "x": {"field": "start", "type": "quantitative", "scale": {"domain": [0, 240], "nice": false}, "axis": {"orient": "top", "values": [0,5,10,15,20,25,30,35,40,45,50,55,60,65,70,75,80,85,90,95,100,105,110,115,120,125,130,135,140,145,150,155,160,165,170,175,180,185,190,195,200,205,210,215,220,225,230,235,240], "labels": false, "grid": false, "title": null}},
       "x2": {"field": "end"}}},
    {"data": {"name": "spans"}, "transform": [{"filter": "datum.p === 'VLCH'"}],
     "mark": {"type": "rect", "color": "#fdd6a4"},
     "encoding": {
       "x": {"datum": 4.4, "type": "quantitative", "scale": {"domain": [0, 240], "nice": false}, "axis": null},
       "x2": {"datum": 40.1},
       "y": {"datum": 2.92, "type": "quantitative", "scale": {"domain": [0, 3.5], "nice": false}, "axis": {"orient": "right", "values": [0, 1, 2, 3], "labels": false, "grid": false, "title": null}},
       "y2": {"datum": 3.45}}},
    {"data": {"name": "spans"}, "transform": [{"filter": "datum.p === 'VLCH'"}],
     "mark": {"type": "text", "align": "left", "baseline": "middle", "fontSize": 17, "color": "black"},
     "encoding": {
       "x": {"datum": 5.2, "type": "quantitative", "scale": {"domain": [0, 240], "nice": false}, "axis": null},
       "y": {"datum": 3.19, "type": "quantitative", "scale": {"domain": [0, 3.5], "nice": false}, "axis": null},
       "text": {"field": "p"}}},
    {"data": {"name": "spans"}, "transform": [{"filter": "datum.p === 'VLCH'"}],
     "mark": {"type": "text", "align": "right", "baseline": "middle", "fontSize": 17, "color": "#d9a6d9"},
     "encoding": {
       "x": {"datum": 39.4, "type": "quantitative", "scale": {"domain": [0, 240], "nice": false}, "axis": null},
       "y": {"datum": 3.19, "type": "quantitative", "scale": {"domain": [0, 3.5], "nice": false}, "axis": null},
       "text": {"field": "ref"}}},
    {"data": {"name": "series"},
     "mark": {"type": "circle", "size": 36, "color": "#6a5acd", "opacity": 1},
     "encoding": {
       "x": {"field": "t", "type": "quantitative", "scale": {"domain": [0, 240], "nice": false}, "axis": {"orient": "bottom", "values": [0,5,10,15,20,25,30,35,40,45,50,55,60,65,70,75,80,85,90,95,100,105,110,115,120,125,130,135,140,145,150,155,160,165,170,175,180,185,190,195,200,205,210,215,220,225,230,235,240], "labels": true, "labelExpr": "datum.value % 20 === 0 ? datum.label : ''", "labelFontSize": 16, "labelPadding": 1, "title": "Sekunde od 11.19 ure naprej", "titleFontSize": 16, "titlePadding": 3, "grid": true, "gridOpacity": {"condition": {"test": "datum.value % 10 === 0", "value": 1}, "value": 0}}},
       "y": {"field": "VLCH", "type": "quantitative", "scale": {"domain": [0, 3.5], "nice": false}, "axis": {"orient": "left", "values": [0, 1, 2, 3], "title": "Δd [cm]", "grid": true}}}}
  ]
}
]
}
